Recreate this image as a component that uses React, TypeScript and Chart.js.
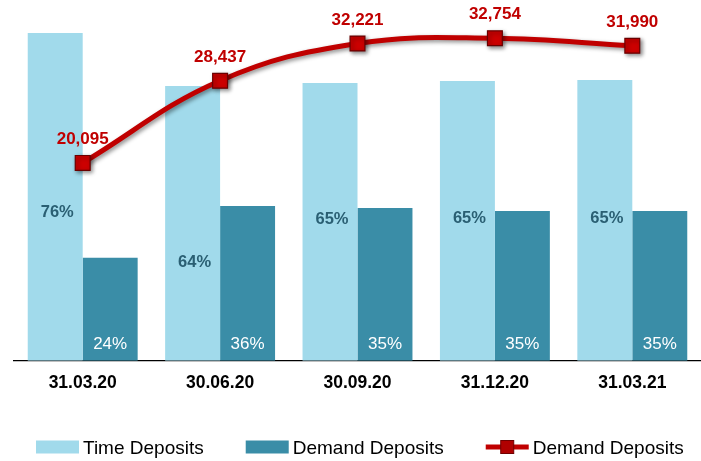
import { useEffect, useRef } from 'react';
import { Chart, registerables } from 'chart.js';

Chart.register(...registerables);

const categories = ['31.03.20', '30.06.20', '30.09.20', '31.12.20', '31.03.21'];
const timeDeposits = [328, 275, 278, 280, 281];
const demandDeposits = [103, 155, 153, 150, 150];
const demandDepositsLine = [20095, 28437, 32221, 32754, 31990];
const timeShareLabels = ['76%', '64%', '65%', '65%', '65%'];
const demandShareLabels = ['24%', '36%', '35%', '35%', '35%'];

const FONT = "'Liberation Sans', Arial, sans-serif";
const LIGHT = '#A1DAEB';
const TEAL = '#3A8DA7';
const RED = '#C00000';
const timeLabelPos = [0.44, 0.343, 0.493, 0.492, 0.492];

const fmt = (v: number) => v.toLocaleString('en-US');

const labelsPlugin = {
  id: 'customLabels',
  beforeDatasetDraw(chart: any, args: any) {
    if (args.index === 2) {
      const ctx = chart.ctx;
      ctx.save();
      ctx.shadowColor = 'rgba(0,0,0,0.45)';
      ctx.shadowBlur = 4;
      ctx.shadowOffsetX = 2;
      ctx.shadowOffsetY = 2;
    }
  },
  afterDatasetDraw(chart: any, args: any) {
    if (args.index === 2) chart.ctx.restore();
  },
  afterDatasetsDraw(chart: any) {
    const ctx = chart.ctx;
    const base = chart.scales.y.getPixelForValue(0);
    const m0 = chart.getDatasetMeta(0);
    const m1 = chart.getDatasetMeta(1);
    const m2 = chart.getDatasetMeta(2);
    ctx.save();
    ctx.textAlign = 'center';
    ctx.textBaseline = 'alphabetic';
    ctx.font = `bold 16.5px ${FONT}`;
    ctx.fillStyle = '#2A5F73';
    m0.data.forEach((bar: any, i: number) => {
      const y = base - (base - bar.y) * timeLabelPos[i];
      ctx.fillText(timeShareLabels[i], bar.x + 2, y);
    });
    ctx.font = `17px ${FONT}`;
    ctx.fillStyle = '#FFFFFF';
    m1.data.forEach((bar: any, i: number) => {
      ctx.fillText(demandShareLabels[i], bar.x, base - 12);
    });
    ctx.font = `bold 17px ${FONT}`;
    ctx.fillStyle = RED;
    m2.data.forEach((pt: any, i: number) => {
      ctx.fillText(fmt(demandDepositsLine[i]), pt.x, pt.y - 19);
    });
    ctx.restore();
  },
  afterDraw(chart: any) {
    const ctx = chart.ctx;
    ctx.save();
    ctx.font = `19px ${FONT}`;
    ctx.textAlign = 'left';
    ctx.textBaseline = 'alphabetic';
    const baseline = 454;
    const midY = 447;
    const boxW = 43;
    const textGap = 4;
    const itemGap = 42;
    let x = 36;
    const items = [
      { text: 'Time Deposits', kind: 'box', color: LIGHT },
      { text: 'Demand Deposits', kind: 'box', color: TEAL },
      { text: 'Demand Deposits', kind: 'line', color: RED },
    ];
    items.forEach((it) => {
      if (it.kind === 'box') {
        ctx.fillStyle = it.color;
        ctx.fillRect(x, midY - 6.5, boxW, 13);
      } else {
        ctx.strokeStyle = RED;
        ctx.lineWidth = 5;
        ctx.beginPath();
        ctx.moveTo(x, midY);
        ctx.lineTo(x + boxW, midY);
        ctx.stroke();
        ctx.fillStyle = '#B00000';
        ctx.fillRect(x + boxW / 2 - 6.5, midY - 6.5, 13, 13);
        ctx.strokeStyle = '#700000';
        ctx.lineWidth = 1;
        ctx.strokeRect(x + boxW / 2 - 6.5, midY - 6.5, 13, 13);
      }
      ctx.fillStyle = '#000';
      const tx = x + boxW + textGap;
      ctx.fillText(it.text, tx, baseline);
      x = tx + ctx.measureText(it.text).width + itemGap;
    });
    ctx.restore();
  },
};

export default function App() {
  const ref = useRef<HTMLCanvasElement>(null);

  useEffect(() => {
    if (!ref.current) return;
    const chart = new Chart(ref.current, {
      type: 'bar',
      data: {
        labels: categories,
        datasets: [
          {
            type: 'bar',
            label: 'Time Deposits',
            data: timeDeposits,
            backgroundColor: LIGHT,
            yAxisID: 'y',
            order: 2,
            categoryPercentage: 0.8,
            barPercentage: 1.0,
          },
          {
            type: 'bar',
            label: 'Demand Deposits',
            data: demandDeposits,
            backgroundColor: TEAL,
            yAxisID: 'y',
            order: 2,
            categoryPercentage: 0.8,
            barPercentage: 1.0,
          },
          {
            type: 'line',
            label: 'Demand Deposits',
            data: demandDepositsLine,
            borderColor: RED,
            borderWidth: 5,
            tension: 0.4,
            pointStyle: 'rect',
            pointRadius: 10.5,
            pointBackgroundColor: '#CC0000',
            pointBorderColor: '#6A0000',
            pointBorderWidth: 1.2,
            yAxisID: 'y1',
            order: 0,
          },
        ] as any,
      },
      options: {
        animation: false,
        responsive: false,
        events: [],
        layout: { autoPadding: false, padding: { left: 14, right: 0, top: 20, bottom: 55.2 } },
        plugins: {
          legend: { display: false },
          tooltip: { enabled: false },
        },
        scales: {
          x: {
            grid: { display: false, drawTicks: false },
            border: { display: true, color: '#000', width: 1.2 },
            ticks: {
              color: '#000',
              padding: 12,
              font: { family: FONT, size: 17.5, weight: 'bold' },
            },
          },
          y: { display: false, min: 0, max: 341 },
          y1: { display: false, min: 0, max: 34608 },
        },
      },
      plugins: [labelsPlugin],
    });
    return () => chart.destroy();
  }, []);

  return (
    <div style={{ position: 'fixed', left: 0, top: 0, width: 701, height: 461 }}>
      <canvas ref={ref} width={701} height={461} style={{ display: 'block', width: 701, height: 461 }} />
    </div>
  );
}
